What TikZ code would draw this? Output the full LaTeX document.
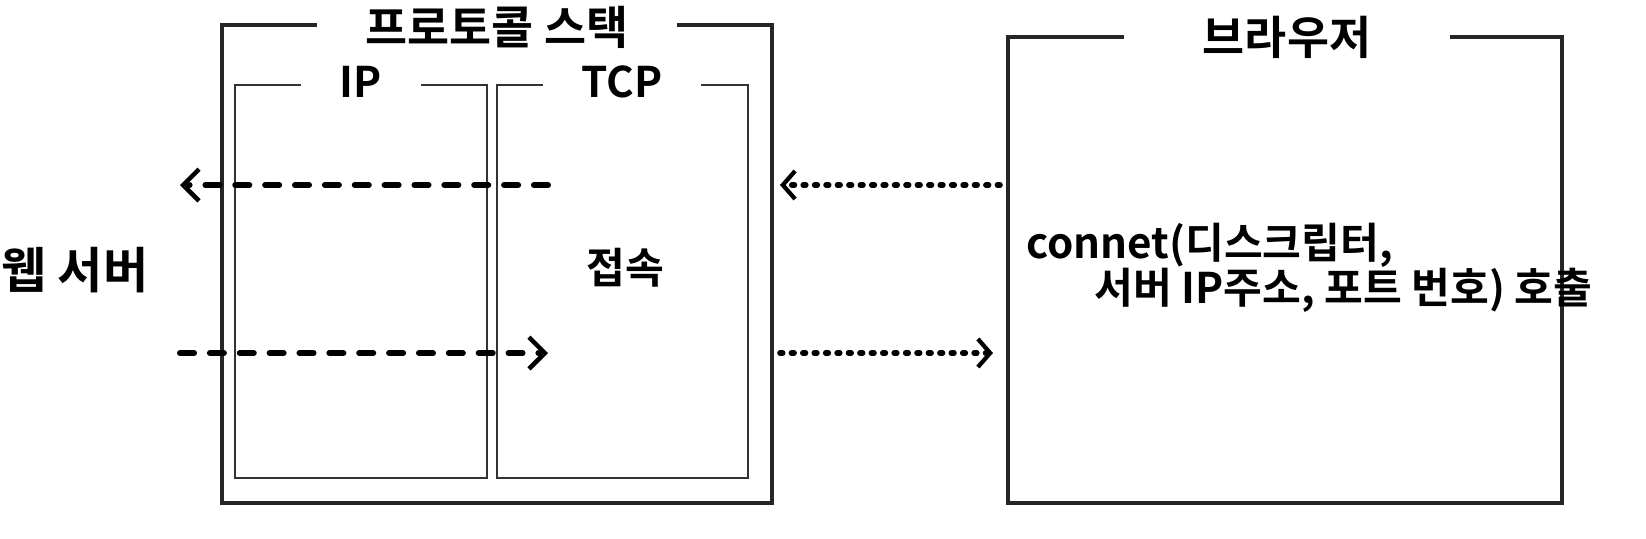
\documentclass[tikz,border=0pt]{standalone}
\usepackage{fontspec}
\setmainfont{Noto Sans CJK KR Bold}
\usetikzlibrary{arrows.meta,positioning}
\tikzset{
    % Frame styles
    outerframe/.style={draw=black!85, line width=2.6pt},
    innerframe/.style={draw=black!80, line width=1.1pt},
    % Title on a frame
    frametitle/.style={fill=white, inner xsep=28pt, inner ysep=2pt, font=\fontsize{26}{30}\selectfont},
    innertitle/.style={fill=white, inner xsep=22pt, inner ysep=2pt, font=\fontsize{24}{28}\selectfont},
    % Arrows
    dasharrow/.style={line width=3.4pt, line cap=round, dash pattern=on 8pt off 9pt, -{Straight Barb[length=9pt,width=18pt,line width=2.6pt]}},
    dotarrow/.style={line width=3.2pt, line cap=round, dash pattern=on 1.5pt off 5pt, -{Straight Barb[length=7pt,width=16pt,line width=2.4pt]}},
    plaintext/.style={font=\fontsize{24}{30}\selectfont}
}
\begin{document}
\begin{tikzpicture}[x=0.02cm,y=-0.02cm]
\useasboundingbox (0,0) rectangle (1646,538);

% protocol stack
\draw[outerframe] (222,25) rectangle (772,503);
\draw[innerframe] (235,85) rectangle (487,478);
\draw[innerframe] (497,85) rectangle (748,478);
\node[frametitle] (stack) at (497,27) {프로토콜 스택};
\node[innertitle] (ip) at (361,82) {IP};
\node[innertitle] (tcp) at (622,82) {TCP};

% browser
\draw[outerframe] (1008,37) rectangle (1562,503);
\node[frametitle, inner xsep=45pt] (browser) at (1287,37) {브라우저};

% texts
\node[plaintext, font=\fontsize{28}{32}\selectfont] (server) at (75,270) {웹 서버};
\node[plaintext] (connect) at (625,268) {접속};
\node[plaintext, anchor=west] (call1) at (1020,245) {connet(디스크립터,};
\node[plaintext, anchor=west] (call2) at (1088,290) {서버 IP주소, 포트 번호) 호출};

% connectors
\coordinate (tcpout) at (548,185);
\coordinate (srvin) at (180,185);
\coordinate (srvout) at (180,353);
\coordinate (tcpin) at (548,353);
\coordinate (brout) at (1000,185);
\coordinate (stackin) at (780,185);
\coordinate (stackout) at (780,353);
\coordinate (brin) at (993,353);
\draw[dasharrow] (tcpout) -- (srvin);
\draw[dasharrow] (srvout) -- (tcpin);
\draw[dotarrow] (brout) -- (stackin);
\draw[dotarrow] (stackout) -- (brin);
\end{tikzpicture}
\end{document}
